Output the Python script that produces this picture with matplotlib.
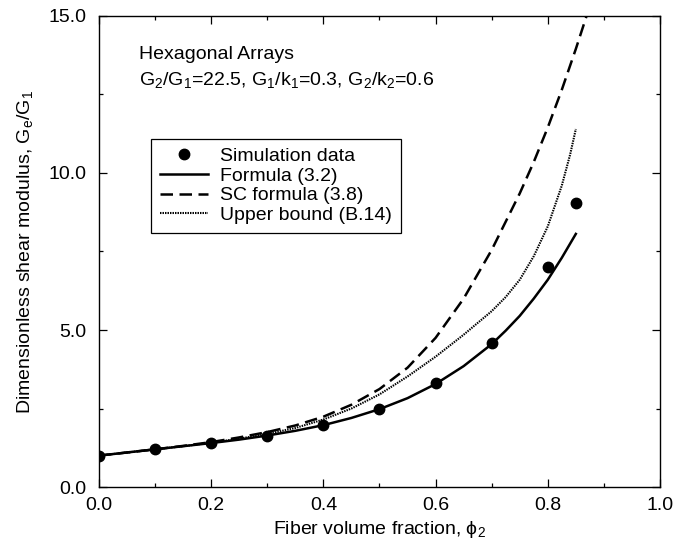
import matplotlib
matplotlib.use("Agg")
import matplotlib.pyplot as plt
from matplotlib.legend_handler import HandlerLine2D
from matplotlib.ticker import MultipleLocator, FormatStrFormatter

plt.rcParams['font.family'] = ['Liberation Sans', 'DejaVu Sans']
plt.rcParams['mathtext.fontset'] = 'custom'
plt.rcParams['mathtext.rm'] = 'Liberation Sans'
plt.rcParams['mathtext.it'] = 'Liberation Sans'

# Simulation results
phi_sim = [0.0, 0.1, 0.2, 0.3, 0.4, 0.5, 0.6, 0.7, 0.8, 0.85]
g_sim = [1.0, 1.2, 1.4, 1.63, 1.98, 2.5, 3.3, 4.6, 7.0, 9.03]

# Formula (3.2)
phi_f = [0.0, 0.05, 0.1, 0.15, 0.2, 0.25, 0.3, 0.35, 0.4, 0.45, 0.5, 0.55,
         0.6, 0.65, 0.7, 0.725, 0.75, 0.775, 0.8, 0.825, 0.85]
g_f = [1.0, 1.1, 1.2, 1.3, 1.4, 1.51, 1.64, 1.79, 1.97, 2.2, 2.48, 2.83,
       3.28, 3.85, 4.55, 4.98, 5.45, 6.0, 6.6, 7.3, 8.06]

# SC formula (3.8)
phi_sc = [0.0, 0.05, 0.1, 0.15, 0.2, 0.25, 0.3, 0.35, 0.4, 0.45, 0.5, 0.55,
          0.6, 0.65, 0.7, 0.725, 0.75, 0.775, 0.8, 0.825, 0.85, 0.87]
g_sc = [1.0, 1.1, 1.2, 1.31, 1.43, 1.58, 1.75, 1.96, 2.24, 2.62, 3.12, 3.8,
        4.75, 6.0, 7.55, 8.45, 9.35, 10.35, 11.45, 12.65, 13.95, 15.05]

# Upper bound (B.14)
phi_ub = [0.0, 0.05, 0.1, 0.15, 0.2, 0.25, 0.3, 0.35, 0.4, 0.45, 0.5, 0.55,
          0.6, 0.65, 0.7, 0.725, 0.75, 0.775, 0.8, 0.825, 0.84, 0.85]
g_ub = [1.0, 1.1, 1.2, 1.3, 1.41, 1.54, 1.69, 1.88, 2.15, 2.5, 2.95, 3.52,
        4.15, 4.85, 5.6, 6.05, 6.6, 7.35, 8.3, 9.6, 10.6, 11.4]

x_ticks = [0.0, 0.2, 0.4, 0.6, 0.8, 1.0]
y_ticks = [0.0, 5.0, 10.0, 15.0]


class MarkerAtRight(HandlerLine2D):
    def get_xdata(self, legend, xdescent, ydescent, width, height, fontsize):
        xdata = [-xdescent, -xdescent + width]
        return xdata, [-xdescent + width - 0.15 * fontsize]


fig = plt.figure(figsize=(6.74, 5.49), dpi=100)
ax = fig.add_axes([0.1469, 0.1129, 0.8323, 0.858])

sim, = ax.plot(phi_sim, g_sim, 'o', color='black', markersize=7.5,
               label='Simulation data', zorder=5)
ax.plot(phi_f, g_f, '-', color='black', lw=1.8, label='Formula (3.2)')
ax.plot(phi_sc, g_sc, color='black', lw=1.8, dashes=(5, 2.6),
        label='SC formula (3.8)')
ax.plot(phi_ub, g_ub, color='black', lw=1.5, dashes=(0.7, 0.5),
        label='Upper bound (B.14)')

ax.set_xlim(0.0, 1.0)
ax.set_ylim(0.0, 15.0)
ax.set_xticks(x_ticks)
ax.set_yticks(y_ticks)
ax.xaxis.set_minor_locator(MultipleLocator(0.1))
ax.yaxis.set_minor_locator(MultipleLocator(2.5))
ax.xaxis.set_major_formatter(FormatStrFormatter('%.1f'))
ax.yaxis.set_major_formatter(FormatStrFormatter('%.1f'))
ax.tick_params(which='both', direction='in', top=True, right=True,
               labelsize=14, width=0.9, colors='black')
ax.tick_params(which='major', length=5.5)
ax.tick_params(which='minor', length=3)
ax.tick_params(axis='x', pad=7)
ax.tick_params(axis='y', pad=9)
for s in ax.spines.values():
    s.set_linewidth(1.0)

ax.set_xlabel(r'Fiber volume fraction, $\mathregular{\phi_2}$', fontsize=14,
              labelpad=4)
ax.set_ylabel(r'Dimensionless shear modulus, G$\mathregular{_e}$/G$\mathregular{_1}$',
              fontsize=14, labelpad=10)

ax.text(0.0713, 13.63, 'Hexagonal Arrays', fontsize=14, va='baseline')
ax.text(0.0713, 12.8,
        r'G$\mathregular{_2}$/G$\mathregular{_1}$=22.5, '
        r'G$\mathregular{_1}$/k$\mathregular{_1}$=0.3, '
        r'G$\mathregular{_2}$/k$\mathregular{_2}$=0.6',
        fontsize=14, va='baseline')

leg = ax.legend(loc='upper left', bbox_to_anchor=(0.0927, 0.739),
                borderaxespad=0, fontsize=14, frameon=True, fancybox=False,
                framealpha=1, edgecolor='black', handlelength=2.5,
                handletextpad=0.6, labelspacing=0.1, borderpad=0.45,
                numpoints=1, handler_map={sim: MarkerAtRight()})
leg.get_frame().set_linewidth(0.9)

fig.savefig('out.png', dpi=100)
